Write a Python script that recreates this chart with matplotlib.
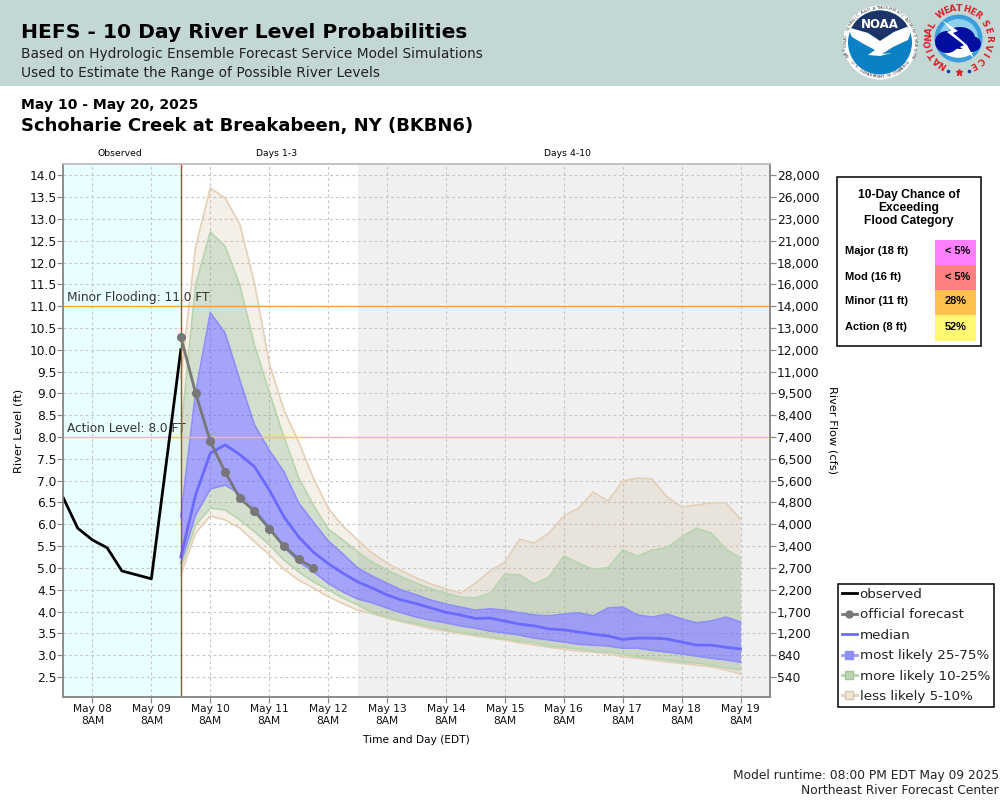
import numpy as np
import pandas as pd
import matplotlib
matplotlib.use('Agg')
import matplotlib.pyplot as plt
from matplotlib.lines import Line2D
from matplotlib.patches import Circle, Ellipse, Polygon, Rectangle

# observed stage (ft)
obs_times = ['2025-05-07 20:00', '2025-05-08 02:00', '2025-05-08 08:00', '2025-05-08 14:00',
             '2025-05-08 20:00', '2025-05-09 02:00', '2025-05-09 08:00', '2025-05-09 20:00']
obs_level = [6.62, 5.91, 5.64, 5.46, 4.93, 4.84, 4.75, 10.0]

# official forecast, 6 hourly from the model run
official = [10.3, 9.01, 7.9, 7.2, 6.6, 6.3, 5.9, 5.5, 5.2, 5.0]

# ensemble traces, 6 hourly from May 09 8PM to May 19 8AM
median = [5.25, 6.67, 7.63, 7.82, 7.6, 7.32, 6.79, 6.17, 5.71, 5.36, 5.1, 4.88, 4.68,
          4.54, 4.38, 4.26, 4.18, 4.08, 3.98, 3.92, 3.84, 3.85, 3.78, 3.71, 3.67, 3.6,
          3.58, 3.53, 3.48, 3.44, 3.36, 3.39, 3.39, 3.37, 3.3, 3.23, 3.23, 3.18, 3.14]
tan_top = [9.35, 12.36, 13.71, 13.48, 12.89, 11.53, 9.7, 8.62, 7.89, 7.06, 6.37, 5.96, 5.64,
           5.34, 5.11, 4.93, 4.77, 4.63, 4.52, 4.42, 4.65, 4.93, 5.13, 5.66, 5.57, 5.8,
           6.19, 6.37, 6.74, 6.53, 6.99, 7.06, 7.04, 6.63, 6.4, 6.44, 6.49, 6.49, 6.12]
green_top = [8.1, 11.49, 12.7, 12.38, 11.49, 10.11, 9.03, 8.0, 7.06, 6.44, 5.89, 5.64, 5.37,
             5.13, 4.95, 4.79, 4.65, 4.52, 4.42, 4.33, 4.31, 4.42, 4.86, 4.84, 4.63, 4.79,
             5.27, 5.11, 4.97, 5.0, 5.41, 5.27, 5.41, 5.46, 5.71, 5.91, 5.8, 5.43, 5.23]
blue_top = [6.17, 9.01, 10.85, 10.39, 9.31, 8.28, 7.7, 7.2, 6.49, 6.05, 5.62, 5.32, 5.0,
            4.81, 4.65, 4.49, 4.38, 4.26, 4.17, 4.1, 4.03, 4.06, 4.03, 3.97, 3.92, 3.9,
            3.94, 3.97, 3.9, 4.08, 4.1, 3.92, 3.87, 3.94, 3.83, 3.74, 3.78, 3.87, 3.76]
blue_bot = [5.11, 6.21, 6.81, 6.9, 6.7, 6.37, 5.94, 5.48, 5.14, 4.91, 4.65, 4.45, 4.29,
            4.2, 4.08, 3.97, 3.87, 3.8, 3.74, 3.67, 3.62, 3.55, 3.51, 3.46, 3.39, 3.35,
            3.3, 3.25, 3.23, 3.21, 3.16, 3.16, 3.11, 3.07, 3.03, 2.98, 2.93, 2.89, 2.84]
green_bot = [5.0, 5.98, 6.37, 6.33, 6.1, 5.83, 5.53, 5.18, 4.91, 4.68, 4.5, 4.31, 4.15,
             3.97, 3.88, 3.79, 3.72, 3.65, 3.58, 3.52, 3.47, 3.42, 3.37, 3.32, 3.28, 3.21,
             3.18, 3.14, 3.09, 3.07, 3.02, 2.96, 2.93, 2.89, 2.84, 2.82, 2.77, 2.71, 2.66]
tan_bot = [4.84, 5.8, 6.19, 6.1, 5.91, 5.6, 5.3, 4.97, 4.72, 4.54, 4.34, 4.18, 4.03,
           3.95, 3.85, 3.76, 3.69, 3.6, 3.55, 3.49, 3.44, 3.39, 3.35, 3.28, 3.23, 3.18,
           3.14, 3.09, 3.07, 3.03, 2.96, 2.93, 2.89, 2.84, 2.81, 2.77, 2.73, 2.66, 2.57]

# axis labels
level_ticks = [2.5, 3.0, 3.5, 4.0, 4.5, 5.0, 5.5, 6.0, 6.5, 7.0, 7.5, 8.0, 8.5, 9.0, 9.5,
               10.0, 10.5, 11.0, 11.5, 12.0, 12.5, 13.0, 13.5, 14.0]
flow_labels = ['540', '840', '1,200', '1,700', '2,200', '2,700', '3,400', '4,000', '4,800',
               '5,600', '6,500', '7,400', '8,400', '9,500', '11,000', '12,000', '13,000',
               '14,000', '16,000', '18,000', '21,000', '23,000', '26,000', '28,000']
day_labels = ['May 08', 'May 09', 'May 10', 'May 11', 'May 12', 'May 13', 'May 14',
              'May 15', 'May 16', 'May 17', 'May 18', 'May 19']

# flood category table
cat_names = ['Major (18 ft)', 'Mod (16 ft)', 'Minor (11 ft)', 'Action (8 ft)']
cat_chance = ['< 5%', '< 5%', '28%', '52%']
cat_colors = ['#ff80ff', '#ff8080', '#ffc050', '#fff870']

TAN = (203/255, 175/255, 135/255)
GREEN = (135/255, 167/255, 117/255)
BLUE = (103/255, 103/255, 248/255)

plt.rcParams['font.family'] = 'DejaVu Sans'

fig = plt.figure(figsize=(10, 8), dpi=100)

# page layer, in pixels of the finished picture
page = fig.add_axes([0, 0, 1, 1], zorder=0)
page.set_xlim(0, 1000)
page.set_ylim(800, 0)
page.axis('off')
page.add_patch(Rectangle((0, 0), 1000, 86, color='#c3d7d5', lw=0))

page.text(21, 33, 'HEFS - 10 Day River Level Probabilities', fontsize=14.6, weight='bold',
          va='center', color='black')
page.text(21, 54, 'Based on Hydrologic Ensemble Forecast Service Model Simulations', fontsize=9.9,
          va='center', color='#222222')
page.text(21, 73, 'Used to Estimate the Range of Possible River Levels', fontsize=9.9,
          va='center', color='#222222')
page.text(21, 105, 'May 10 - May 20, 2025', fontsize=10.1, weight='bold', va='center')
page.text(21, 125.5, 'Schoharie Creek at Breakabeen, NY (BKBN6)', fontsize=13, weight='bold', va='center')
page.text(120, 154, 'Observed', fontsize=6.7, ha='center', va='center')
page.text(277, 154, 'Days 1-3', fontsize=6.7, ha='center', va='center')
page.text(567, 154, 'Days 4-10', fontsize=6.7, ha='center', va='center')
page.text(999, 775, 'Model runtime: 08:00 PM EDT May 09 2025', fontsize=8.85, ha='right', va='center', color='#222222')
page.text(999, 791, 'Northeast River Forecast Center', fontsize=8.85, ha='right', va='center', color='#222222')


def arc_text(s, cx, cy, r, a0, a1, **kw):
    # one letter at a time round a circle, angles clockwise from the top
    for ch, a in zip(s, np.linspace(a0, a1, len(s))):
        t = np.radians(a)
        rot = 180 - a if a0 > a1 else -a
        page.text(cx + r*np.sin(t), cy - r*np.cos(t), ch, rotation=rot, rotation_mode='anchor',
                  ha='center', va='center', **kw)


# NOAA logo
page.add_patch(Circle((880, 42.5), 37, color='white', lw=0))
disc = Circle((880, 42.5), 32, color='#0b80c5', lw=0)
page.add_patch(disc)
top = Polygon([(845, 5), (915, 5), (915, 26), (894, 32), (880, 41), (868, 33), (845, 27)],
              color='#1c3468', lw=0)
page.add_patch(top)
top.set_clip_path(disc)
bird = Polygon([(847, 27), (868, 33), (880, 41), (894, 32), (914, 24), (908, 40), (893, 47),
                (882, 54), (892, 53), (880, 56), (868, 55), (875, 50), (862, 43), (852, 37)],
               color='white', lw=0)
page.add_patch(bird)
bird.set_clip_path(disc)
page.text(880, 25, 'NOAA', color='white', weight='bold', fontsize=8.5, ha='center', va='center')
arc_text('NATIONAL OCEANIC AND ATMOSPHERIC ADMINISTRATION', 880, 42.5, 34.5, -112, 112,
         fontsize=2.9, color='#333333')
arc_text('U.S. DEPARTMENT OF COMMERCE', 880, 42.5, 34.5, 235, 125, fontsize=2.9, color='#333333')

# NWS logo
page.add_patch(Circle((958.5, 38.5), 24, color='#3c9fdc', lw=0))
page.add_patch(Circle((958.5, 38.5), 19.5, color='#8fd0f0', lw=0))
page.add_patch(Ellipse((958.5, 50), 30, 15, color='white', lw=0))
for ex, ey, ew, eh in [(947, 42, 24, 22), (960, 38, 30, 22), (971, 44, 20, 16)]:
    page.add_patch(Ellipse((ex, ey), ew, eh, color='#000f9f', lw=0))
page.add_patch(Polygon([(942, 20), (958, 31), (953, 33), (967, 45), (974, 58), (960, 47),
                        (964, 45), (947, 32), (951, 30)], color='white', lw=0))
arc_text('NATIONAL', 958.5, 38.5, 30, -148, -63, fontsize=6.4, color='#d8232a', weight='bold')
arc_text('WEATHER', 958.5, 38.5, 30, -36, 40, fontsize=6.4, color='#d8232a', weight='bold')
arc_text('SERVICE', 958.5, 38.5, 30, 60, 151, fontsize=6.4, color='#d8232a', weight='bold')
page.plot([948, 969], [71, 71], ls='none', marker='o', ms=1.6, color='#1040a0')
page.plot([958.5], [72], ls='none', marker='*', ms=5, color='#d8232a')

# chart
fc_times = pd.date_range('2025-05-09 20:00', periods=len(median), freq='6h')
ob_times = pd.to_datetime(obs_times)
tick_times = pd.date_range('2025-05-08 08:00', periods=len(day_labels), freq='1D')
run_time = pd.Timestamp('2025-05-09 20:00')

ax = fig.add_axes([0.063, 0.12875, 0.707, 0.66625], zorder=2)
ax.patch.set_alpha(0)
ax.set_xlim(pd.Timestamp('2025-05-07 20:00'), pd.Timestamp('2025-05-19 20:00'))
ax.set_ylim(2.04, 14.26)

ax.axvspan(pd.Timestamp('2025-05-07 20:00'), run_time, color='#e9ffff', lw=0, zorder=0)
ax.axvspan(pd.Timestamp('2025-05-12 20:00'), pd.Timestamp('2025-05-19 20:00'), color='#f0f0f0', lw=0, zorder=0)
ax.grid(True, ls=(0, (2.5, 2.5)), color='#c6c6c6', lw=0.8, zorder=1)
ax.set_axisbelow(True)

for low, high, col, al in [(tan_bot, green_bot, TAN, 0.2), (green_top, tan_top, TAN, 0.2),
                           (green_bot, blue_bot, GREEN, 0.36), (blue_top, green_top, GREEN, 0.36),
                           (blue_bot, blue_top, BLUE, 0.6)]:
    ax.fill_between(fc_times, low, high, color=col, alpha=al, lw=0, zorder=2)
for trace, col in [(tan_top, '#e4cfb8'), (tan_bot, '#e4cfb8'), (green_top, '#b8d4ae'),
                   (green_bot, '#b8d4ae'), (blue_top, '#8d8dfb'), (blue_bot, '#8d8dfb')]:
    ax.plot(fc_times, trace, color=col, lw=1.2, zorder=3)

ax.axhline(11.0, color='#ffa040', lw=1.0, zorder=4)
ax.axhline(8.0, color='#f5c850', lw=1.0, zorder=4)
ax.text(pd.Timestamp('2025-05-07 21:30'), 11.05, 'Minor Flooding: 11.0 FT', fontsize=8.7,
        color='#333333', va='bottom', zorder=6)
ax.text(pd.Timestamp('2025-05-07 21:30'), 8.05, 'Action Level: 8.0 FT', fontsize=8.7,
        color='#333333', va='bottom', zorder=6)

ax.plot(fc_times, median, color='#6a6aff', lw=2, zorder=5)
ax.plot(ob_times, obs_level, color='black', lw=2, zorder=5)
ax.axvline(run_time, color='#e03030', lw=1.0, zorder=6)
ax.plot(fc_times[:len(official)], official, color='#777777', lw=2, marker='o', ms=5.5, zorder=7)

ax.set_xticks(tick_times)
ax.set_xticklabels([d + '\n8AM' for d in day_labels], fontsize=7.7, color='#111111')
ax.set_yticks(level_ticks)
ax.set_yticklabels(['%.1f' % v for v in level_ticks], fontsize=8.8, color='#111111')
ax.tick_params(axis='x', length=4, width=0.9, color='#888888', pad=1)
ax.tick_params(axis='y', length=4, width=0.9, color='#888888', pad=0.5)
ax.set_xlabel('Time and Day (EDT)', fontsize=7.7, labelpad=7)
ax.set_ylabel('River Level (ft)', fontsize=8.2, labelpad=4)

ax2 = ax.twinx()
ax2.set_zorder(3)
ax2.set_ylim(ax.get_ylim())
ax2.set_yticks(level_ticks)
ax2.set_yticklabels(flow_labels, fontsize=8.8, color='#111111')
ax2.tick_params(axis='y', length=4, width=0.9, color='#888888', pad=1)
ax2.set_ylabel('River Flow (cfs)', fontsize=8.2, rotation=270, labelpad=13)

for a in (ax, ax2):
    a.spines['left'].set_color('#888888')
    a.spines['bottom'].set_color('#888888')
    a.spines['right'].set_color('#888888')
    a.spines['top'].set_color('#c0c0c0')
    for s in a.spines.values():
        s.set_linewidth(1.1)

# flood category box
page.add_patch(Rectangle((836.5, 176.5), 144, 169, fc='white', ec='black', lw=1.1, zorder=3))
page.text(909, 208, '10-Day Chance of\nExceeding\nFlood Category', fontsize=8.7, weight='bold',
          family='Liberation Sans', ha='center', va='center', linespacing=1.13, zorder=4)
cell_y = [240, 265, 290, 315]
for y, name, chance, col in zip(cell_y, cat_names, cat_chance, cat_colors):
    page.add_patch(Rectangle((935, y), 41, 26 if y == 315 else 25, color=col, lw=0, zorder=4))
    page.text(845, y + 11.5, name, fontsize=8, weight='bold', family='Liberation Sans',
              va='center', zorder=5)
    page.text(945, y + 11.5, chance, fontsize=7.9, weight='bold',
              family='Liberation Sans', va='center', zorder=5)

# legend
handles = [Line2D([], [], color='black', lw=2),
           Line2D([], [], color='#777777', lw=2, marker='o', ms=5),
           Line2D([], [], color='#6a6aff', lw=2),
           Line2D([], [], color='#9c9cff', lw=2, marker='s', ms=6, mfc='#8f8ff8', mec='#8d8dfb'),
           Line2D([], [], color='#b8d4ae', lw=2, marker='s', ms=6, mfc='#bcd3b2', mec='#a5c49a'),
           Line2D([], [], color='#e4cfb8', lw=2, marker='s', ms=6, mfc='#f0e6d8', mec='#dcc6ac')]
leg = ax2.legend(handles, ['observed', 'official forecast', 'median', 'most likely 25-75%',
                           'more likely 10-25%', 'less likely 5-10%'],
                 loc='upper left', bbox_to_anchor=(838/1000, 1 - 584/800),
                 bbox_transform=fig.transFigure, fontsize=9.7, frameon=True, fancybox=False,
                 edgecolor='black', framealpha=1, borderpad=0.3, labelspacing=0.55,
                 handlelength=1.1, handletextpad=0.2, borderaxespad=0)
leg.get_frame().set_linewidth(1.1)
for t in leg.get_texts():
    t.set_color('#222222')

fig.savefig('out.png', dpi=100)
